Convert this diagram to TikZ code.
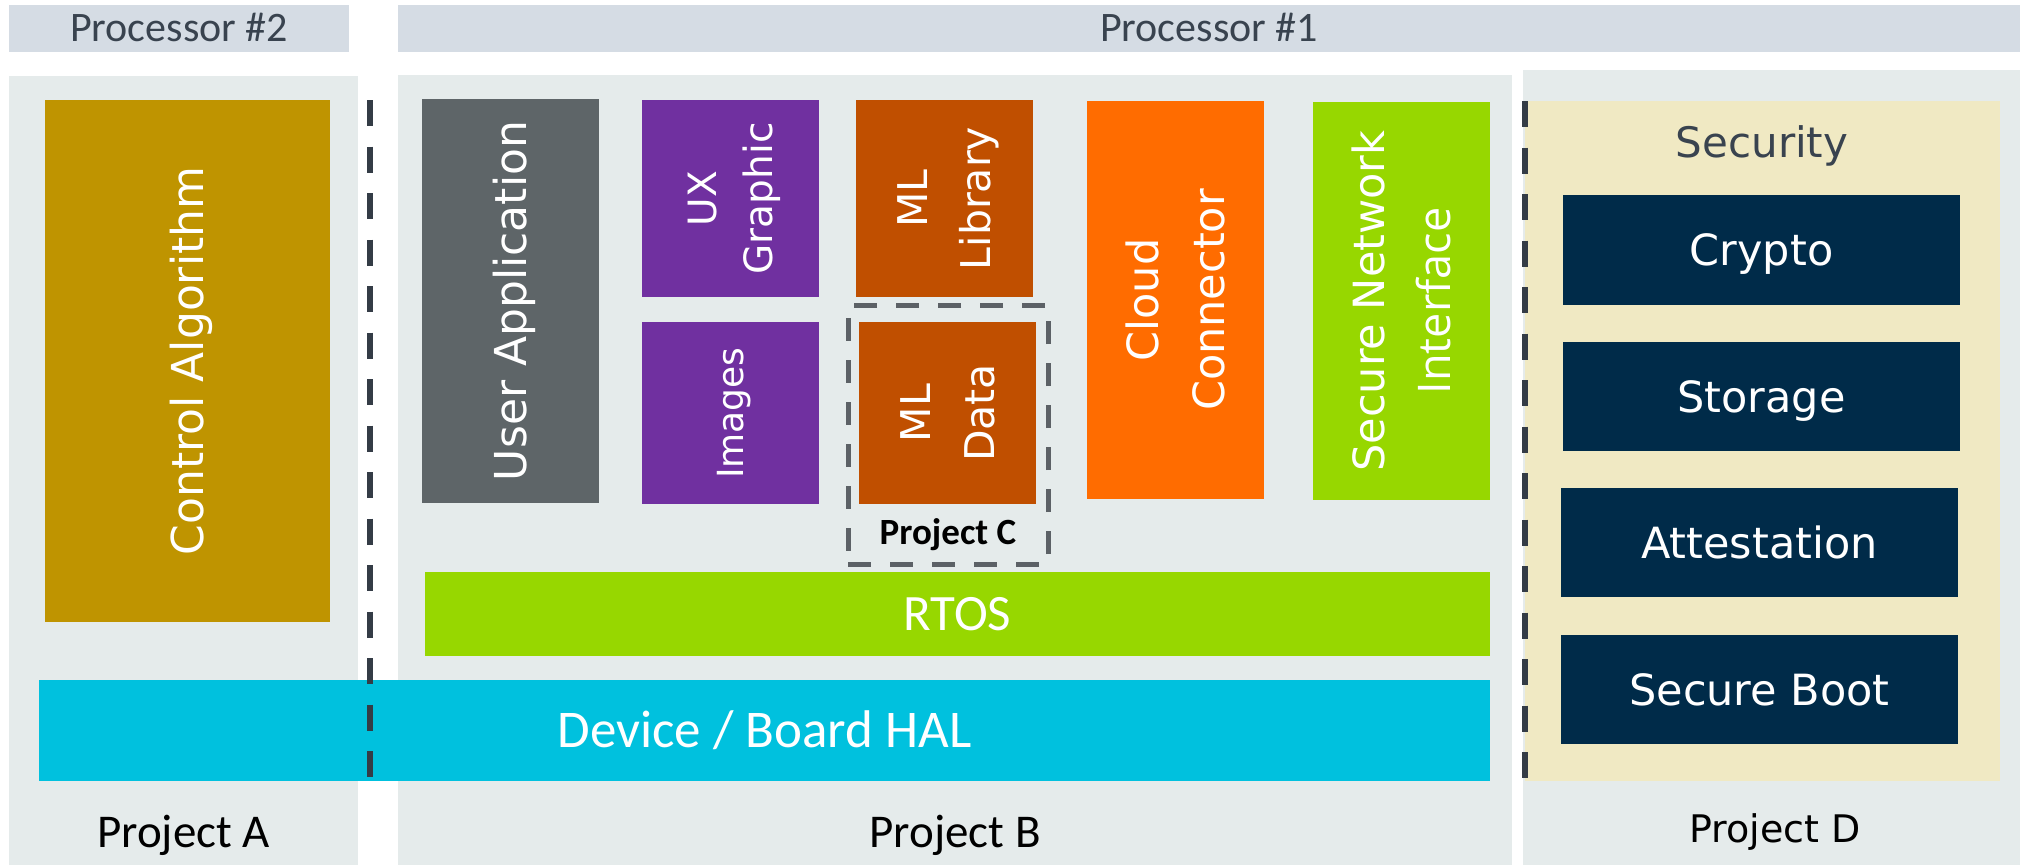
\documentclass[tikz,border=0pt]{standalone}
\usepackage{fontspec}
\usetikzlibrary{fit,calc}
\newfontfamily\calib{Carlito}
\newfontfamily\verd{DejaVu Sans}
\newfontfamily\opens{Open Sans}
\definecolor{procbar}{HTML}{D5DCE4}
\definecolor{panel}{HTML}{E5EBEB}
\definecolor{slate}{HTML}{39434F}
\definecolor{ctrl}{HTML}{BF9400}
\definecolor{userapp}{HTML}{5E6568}
\definecolor{uxpurple}{HTML}{7030A0}
\definecolor{mlorange}{HTML}{C04F00}
\definecolor{cloudorange}{HTML}{FF6C00}
\definecolor{lime}{HTML}{97D700}
\definecolor{halcyan}{HTML}{00C1DE}
\definecolor{beige}{HTML}{F0E9C3}
\definecolor{navy}{HTML}{002B49}
\definecolor{dashdark}{HTML}{343C46}
\definecolor{dashgray}{HTML}{5C6166}
\begin{document}
\begin{tikzpicture}[x=1pt,y=-1pt,
  blk/.style={inner sep=0pt, outer sep=0pt, draw=none},
  dv/.style={font=\verd\fontsize{#1}{#1}\selectfont, text height={0.729*#1}, text depth=0pt, inner sep=0pt, outer sep=0pt},
  cb/.style={font=\calib\fontsize{#1}{#1}\selectfont, text height={0.632*#1}, text depth=0pt, inner sep=0pt, outer sep=0pt},
  cbb/.style={font=\calib\bfseries\fontsize{#1}{#1}\selectfont, text height={0.632*#1}, text depth=0pt, inner sep=0pt, outer sep=0pt},
  os/.style={font=\opens\fontsize{#1}{#1}\selectfont, text height={0.714*#1}, text depth=0pt, inner sep=0pt, outer sep=0pt},
  vert/.style={rotate=90, text=white},
  divider/.style={draw=dashdark, line width=6.5pt, dash pattern=on 26pt off 20.5pt},
  groupbox/.style={draw=dashgray, line width=5pt, dash pattern=on 23pt off 19pt, inner sep=0pt, outer sep=0pt}
]
\useasboundingbox (0,0) rectangle (2020,865);
\fill[white] (0,0) rectangle (2020,865);

% processor headers
\node[blk, fill=procbar, fit={(9,5) (349,52)}] (proc2) {};
\node[cb=42, text=slate] (proc2t) at (proc2.center) {Processor \#2};
\node[blk, fill=procbar, fit={(398,5) (2020,52)}] (proc1) {};
\node[cb=42, text=slate] (proc1t) at (proc1.center) {Processor \#1};

% project panels
\node[blk, fill=panel, fit={(9,76) (358,865)}] (panelA) {};
\node[blk, fill=panel, fit={(398,75) (1512,865)}] (panelB) {};
\node[blk, fill=panel, fit={(1523,70) (2020,865)}] (panelD) {};

% project A
\node[blk, fill=ctrl, fit={(45,100) (330,622)}] (ctrl) {};
\node[dv=44, vert] (ctrlt) at (ctrl.center) {Control Algorithm};

% project B
\node[blk, fill=userapp, fit={(422,99) (599,503)}] (user) {};
\node[dv=44, vert] (usert) at (user.center) {User Application};

\node[blk, fill=uxpurple, fit={(642,100) (819,297)}] (ux) {};
\node[dv=39, vert] (uxa) at ($(ux.center)+(-28,0)$) {UX};
\node[dv=39, vert] (uxb) at ($(ux.center)+(28,0)$) {Graphic};

\node[blk, fill=uxpurple, fit={(642,322) (819,504)}] (img) {};
\node[dv=36, vert] (imgt) at (img.center) {Images};

\node[blk, fill=mlorange, fit={(856,100) (1033,297)}] (mllib) {};
\node[dv=41, vert] (mlliba) at ($(mllib.center)+(-31.5,0)$) {ML};
\node[dv=41, vert] (mllibb) at ($(mllib.center)+(31.5,0)$) {Library};

\node[blk, fill=mlorange, fit={(859,322) (1036,504)}] (mldata) {};
\node[dv=41, vert] (mldataa) at ($(mldata.center)+(-32,0)$) {ML};
\node[dv=41, vert] (mldatab) at ($(mldata.center)+(32,0)$) {Data};

\node[groupbox, fit={(848,305) (1048,564)}] (projC) {};
\node[cbb=37, text=black] (projCt) at (948,533) {Project C};

\node[blk, fill=cloudorange, fit={(1087,101) (1264,499)}] (cloud) {};
\node[dv=43, vert] (clouda) at ($(cloud.center)+(-33,0)$) {Cloud};
\node[dv=43, vert] (cloudb) at ($(cloud.center)+(33,0)$) {Connector};

\node[blk, fill=lime, fit={(1313,102) (1490,500)}] (secnet) {};
\node[dv=43, vert] (secneta) at ($(secnet.center)+(-32.5,0)$) {Secure Network};
\node[os=45, vert] (secnetb) at ($(secnet.center)+(32.5,0)$) {Interface};

\node[blk, fill=lime, fit={(425,572) (1490,656)}] (rtos) {};
\node[cb=51, text=white] (rtost) at (rtos.center) {RTOS};

\node[blk, fill=halcyan, fit={(39,680) (1490,781)}] (hal) {};
\node[cb=53, text=white] (halt) at (hal.center) {Device / Board HAL};

% processor boundary
\coordinate (divtop) at (370,100);
\coordinate (divbot) at (370,778);
\draw[divider] (divtop) -- (divbot);

\node[cb=47, text=black] (projAt) at (183.5,833) {Project A};
\node[cb=47, text=black] (projBt) at (955,833) {Project B};

% project D: security services
\node[blk, fill=beige, fit={(1525,101) (2000,781)}] (sec) {};
\draw[divider] (sec.north west) -- (sec.south west);
\node[dv=42, text=slate] (sect) at (1762,142) {Security};

\node[blk, fill=navy, fit={(1563,195) (1960,305)}] (crypto) {};
\node[dv=43, text=white] (cryptot) at (crypto.center) {Crypto};
\node[blk, fill=navy, fit={(1563,342) (1960,451)}] (storage) {};
\node[dv=43, text=white] (storaget) at (storage.center) {Storage};
\node[blk, fill=navy, fit={(1561,488) (1958,597)}] (attest) {};
\node[dv=43, text=white] (attestt) at (attest.center) {Attestation};
\node[blk, fill=navy, fit={(1561,635) (1958,744)}] (sboot) {};
\node[dv=43, text=white] (sboott) at (sboot.center) {Secure Boot};

\node[dv=38, text=black] (projDt) at (1775,829) {Project D};
\end{tikzpicture}
\end{document}
